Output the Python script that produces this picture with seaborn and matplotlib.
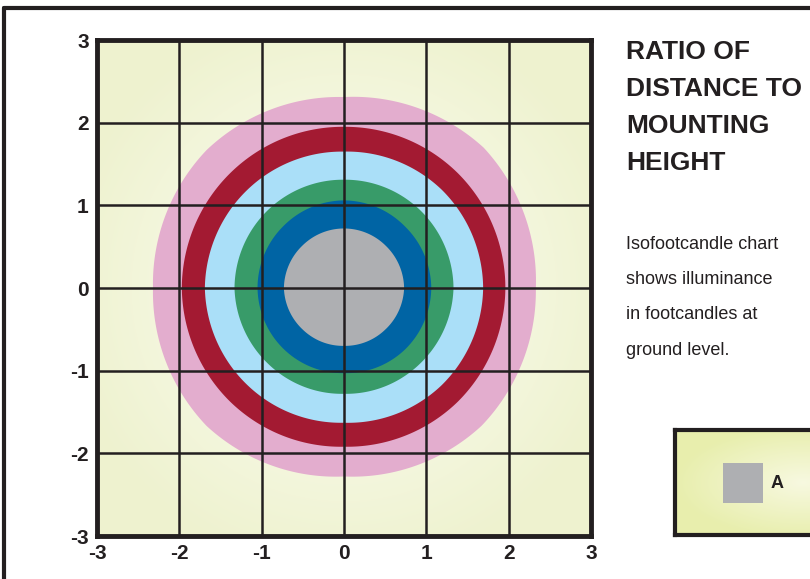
import numpy as np
import matplotlib
matplotlib.use("Agg")
import matplotlib.pyplot as plt
from matplotlib.patches import Rectangle
from matplotlib.lines import Line2D
import seaborn as sns

# boundary radius of each band, read at 0,45,...,315 degrees
angles_deg = [0, 45, 90, 135, 180, 225, 270, 315]
band_names = ["pink", "red", "light blue", "green", "blue", "A"]
band_colors = ["#E3ADCE", "#A31A32", "#AADFF8", "#389B69", "#0064A4", "#AEAFB2"]
band_radii = [
    [2.33, 2.40, 2.31, 2.36, 2.32, 2.36, 2.28, 2.36],
    [1.96, 1.96, 1.95, 1.96, 1.97, 1.95, 1.92, 1.95],
    [1.69, 1.68, 1.65, 1.67, 1.69, 1.66, 1.63, 1.67],
    [1.33, 1.32, 1.31, 1.32, 1.33, 1.30, 1.28, 1.30],
    [1.06, 1.05, 1.06, 1.05, 1.05, 1.04, 1.03, 1.05],
    [0.73, 0.72, 0.72, 0.72, 0.73, 0.71, 0.70, 0.71],
]
ticks = [-3, -2, -1, 0, 1, 2, 3]
tick_labels = ["-3", "-2", "-1", "0", "1", "2", "3"]
title = "RATIO OF\nDISTANCE TO\nMOUNTING\nHEIGHT"
note = "Isofootcandle chart\nshows illuminance\nin footcandles at\nground level."
legend_label = "A"

sns.set_style("white")
plt.rcParams["font.family"] = ["Liberation Sans Narrow", "Liberation Sans", "DejaVu Sans"]
ink = "#231F20"

fig = plt.figure(figsize=(8.1, 5.79), dpi=100)
ax = fig.add_axes([97 / 810, 1 - 536 / 579, 494 / 810, 496 / 579])

# pale radial background
g = np.linspace(-3, 3, 400)
gx, gy = np.meshgrid(g, g)
shade = np.clip(np.hypot(gx, gy) / 3.4, 0, 1)
bg = np.dstack([0.995 - 0.06 * shade, 0.995 - 0.045 * shade, 0.965 - 0.15 * shade])
ax.imshow(bg, extent=[-3, 3, -3, 3], origin="lower", zorder=0, aspect="auto")

# bands, outer first
theta = np.linspace(0, 2 * np.pi, 720)
a_rad = np.deg2rad(angles_deg)
for radii, color in zip(band_radii, band_colors):
    r = np.interp(theta, a_rad, radii, period=2 * np.pi)
    ax.fill(r * np.cos(theta), r * np.sin(theta), color=color, lw=0, zorder=1)

ax.set_xlim(-3, 3)
ax.set_ylim(-3, 3)
ax.set_xticks(ticks)
ax.set_yticks(ticks)
ax.set_xticklabels(tick_labels, fontsize=15, fontweight="bold", color=ink)
ax.set_yticklabels(tick_labels, fontsize=15, fontweight="bold", color=ink)
ax.tick_params(length=0, pad=6)
ax.set_axisbelow(False)
ax.grid(True, color=ink, lw=1.8)
for s in ax.spines.values():
    s.set_color(ink)
    s.set_linewidth(3.5)
    s.set_zorder(5)

# title and note
fig.text(626 / 810, 1 - 40 / 579, title, fontsize=19, fontweight="bold", color=ink,
         va="top", ha="left", linespacing=1.68)
fig.text(626 / 810, 1 - 236 / 579, note, fontsize=13, color=ink,
         va="top", ha="left", linespacing=2.4)

# outer frame (left and top edges)
fig.add_artist(Line2D([4 / 810, 4 / 810], [0, 1 - 8 / 579], color=ink, lw=3))
fig.add_artist(Line2D([4 / 810, 1], [1 - 8 / 579, 1 - 8 / 579], color=ink, lw=3))

# legend box
lax = fig.add_axes([675 / 810, 1 - 535 / 579, 160 / 810, 105 / 579])
lg = np.linspace(-1, 1, 100)
lx, ly = np.meshgrid(lg, lg)
ls = np.clip(np.hypot(lx - 0.6, ly * 1.5) / 1.6, 0, 1)
lbg = np.dstack([0.97 - 0.06 * ls, 0.975 - 0.04 * ls, 0.88 - 0.2 * ls])
lax.imshow(lbg, extent=[0, 160, 0, 105], origin="lower", aspect="auto")
lax.add_patch(Rectangle((48, 32), 40, 40, color=band_colors[-1], lw=0))
lax.text(96, 52, legend_label, fontsize=13, fontweight="bold", color=ink, va="center")
lax.set_xlim(0, 160)
lax.set_ylim(0, 105)
lax.set_xticks([])
lax.set_yticks([])
for s in lax.spines.values():
    s.set_color(ink)
    s.set_linewidth(3)

fig.savefig("out.png", dpi=100)
